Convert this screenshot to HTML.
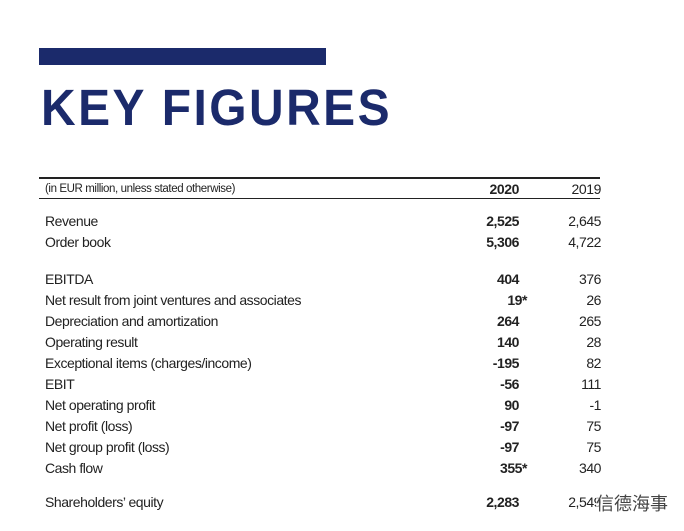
<!DOCTYPE html>
<html><head><meta charset="utf-8"><style>
body{margin:0;width:684px;height:531px;background:#fff;position:relative;overflow:hidden;font-family:"Liberation Sans",sans-serif;color:#222}
.bar{position:absolute;left:39px;top:48px;width:287px;height:17px;background:#1b2a6b}
.t{position:absolute;left:41px;top:78px;font-size:51px;font-weight:bold;color:#1b2a6b;letter-spacing:2.6px;line-height:60px;transform:scaleX(0.94);transform-origin:left}
.rule{position:absolute;left:39px;width:561px;background:#222}
.r{position:absolute;left:45px;width:556px;height:20px;font-size:14px;line-height:20px;letter-spacing:-0.45px}
.r .l{position:absolute;left:0}
.r .a{position:absolute;right:82px;font-weight:bold}
.r .b{position:absolute;right:0}
.h{font-size:11.5px;letter-spacing:-0.4px}
.h .a,.h .b{font-size:14px}
</style></head><body>
<div class="bar"></div>
<div class="t">KEY FIGURES</div>
<div class="rule" style="top:177px;height:2px"></div>
<div class="r h" style="top:179px"><span class="l">(in EUR million, unless stated otherwise)</span><span class="a">2020</span><span class="b">2019</span></div>
<div class="rule" style="top:198px;height:1px"></div>
<div class="r" style="top:211px"><span class="l">Revenue</span><span class="a">2,525</span><span class="b">2,645</span></div>
<div class="r" style="top:232px"><span class="l">Order book</span><span class="a">5,306</span><span class="b">4,722</span></div>
<div class="r" style="top:269px"><span class="l">EBITDA</span><span class="a">404</span><span class="b">376</span></div>
<div class="r" style="top:290px"><span class="l">Net result from joint ventures and associates</span><span class="a" style="right:74px">19*</span><span class="b">26</span></div>
<div class="r" style="top:311px"><span class="l">Depreciation and amortization</span><span class="a">264</span><span class="b">265</span></div>
<div class="r" style="top:332px"><span class="l">Operating result</span><span class="a">140</span><span class="b">28</span></div>
<div class="r" style="top:353px"><span class="l">Exceptional items (charges/income)</span><span class="a">-195</span><span class="b">82</span></div>
<div class="r" style="top:374px"><span class="l">EBIT</span><span class="a">-56</span><span class="b">111</span></div>
<div class="r" style="top:395px"><span class="l">Net operating profit</span><span class="a">90</span><span class="b">-1</span></div>
<div class="r" style="top:416px"><span class="l">Net profit (loss)</span><span class="a">-97</span><span class="b">75</span></div>
<div class="r" style="top:437px"><span class="l">Net group profit (loss)</span><span class="a">-97</span><span class="b">75</span></div>
<div class="r" style="top:458px"><span class="l">Cash flow</span><span class="a" style="right:74px">355*</span><span class="b">340</span></div>
<div class="r" style="top:492px"><span class="l">Shareholders’ equity</span><span class="a">2,283</span><span class="b">2,549</span></div>
<div style="position:absolute;left:596px;top:490px;font-size:18px;color:#444;font-family:'Liberation Sans','Noto Sans CJK SC',sans-serif;background:rgba(255,255,255,0.6)">信德海事</div>
</body></html>
